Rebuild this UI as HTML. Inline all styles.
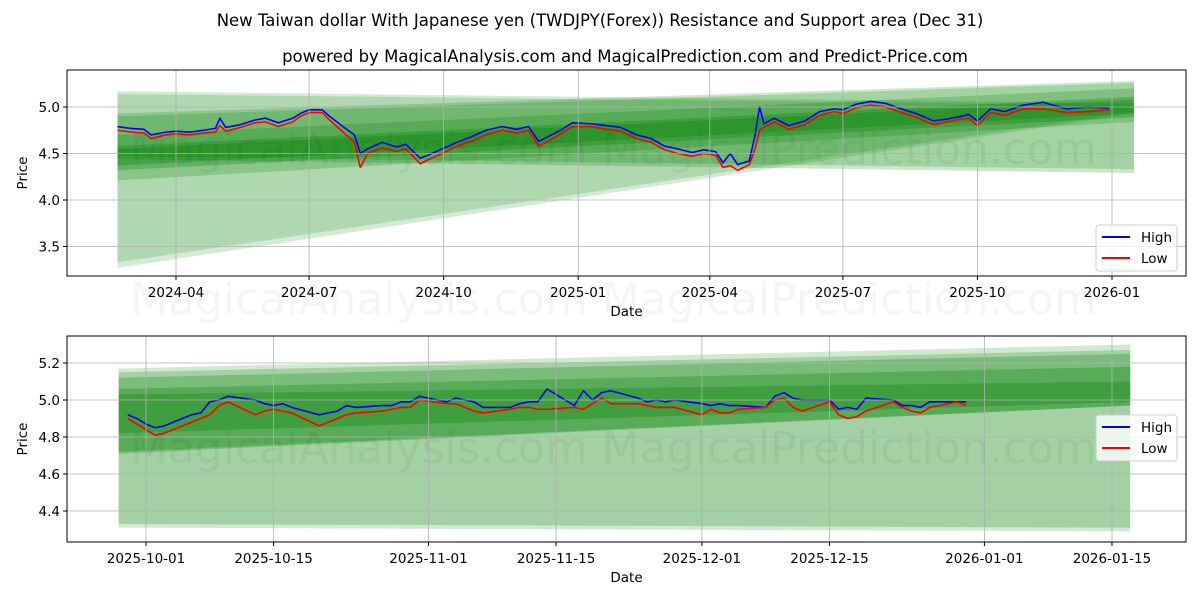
<!DOCTYPE html>
<html><head><meta charset="utf-8"><style>
body{margin:0;background:#fff;}
svg text{font-family:"DejaVu Sans","Liberation Sans",sans-serif;}
</style></head><body>
<svg id="c" width="1200" height="600" xmlns="http://www.w3.org/2000/svg">
<rect width="1200" height="600" fill="#fff"/>
<text x="600" y="26" text-anchor="middle" font-size="16.5">New Taiwan dollar With Japanese yen (TWDJPY(Forex)) Resistance and Support area (Dec 31)</text>
<text x="625" y="62" text-anchor="middle" font-size="16.5">powered by MagicalAnalysis.com and MagicalPrediction.com and Predict-Price.com</text>
<g id="top"></g>
<g id="bot"></g>
</svg>
<script>
// ---- top chart data ----
const topDates=["2024-02-21","2024-03-01","2024-03-10","2024-03-15","2024-03-25","2024-04-01","2024-04-10","2024-04-20","2024-04-28","2024-05-01","2024-05-05","2024-05-15","2024-05-25","2024-06-01","2024-06-10","2024-06-20","2024-06-25","2024-07-01","2024-07-10","2024-07-15","2024-07-25","2024-08-01","2024-08-05","2024-08-10","2024-08-20","2024-08-30","2024-09-05","2024-09-15","2024-09-20","2024-09-30","2024-10-10","2024-10-20","2024-10-30","2024-11-10","2024-11-20","2024-11-28","2024-12-05","2024-12-10","2024-12-20","2024-12-28","2025-01-10","2025-01-20","2025-01-30","2025-02-10","2025-02-20","2025-03-01","2025-03-10","2025-03-20","2025-03-28","2025-04-05","2025-04-10","2025-04-15","2025-04-20","2025-04-28","2025-05-02","2025-05-05","2025-05-08","2025-05-15","2025-05-25","2025-06-05","2025-06-15","2025-06-25","2025-07-01","2025-07-10","2025-07-20","2025-07-30","2025-08-10","2025-08-20","2025-09-01","2025-09-10","2025-09-20","2025-09-25","2025-10-01","2025-10-10","2025-10-20","2025-11-01","2025-11-15","2025-12-01","2025-12-15","2025-12-30"];
const topHigh=[4.79,4.77,4.76,4.70,4.73,4.74,4.73,4.75,4.77,4.88,4.78,4.81,4.86,4.88,4.83,4.88,4.93,4.97,4.97,4.90,4.78,4.70,4.50,4.55,4.62,4.57,4.60,4.45,4.48,4.55,4.62,4.68,4.75,4.79,4.76,4.79,4.63,4.67,4.75,4.83,4.82,4.80,4.78,4.70,4.66,4.58,4.55,4.51,4.54,4.52,4.40,4.50,4.38,4.42,4.70,5.00,4.82,4.88,4.80,4.85,4.95,4.98,4.97,5.03,5.06,5.04,4.98,4.93,4.85,4.87,4.90,4.92,4.85,4.98,4.95,5.02,5.05,4.98,5.00,4.99];
const topLow=[4.75,4.73,4.72,4.66,4.70,4.71,4.70,4.72,4.73,4.80,4.74,4.78,4.83,4.84,4.79,4.84,4.90,4.94,4.94,4.86,4.72,4.62,4.35,4.50,4.56,4.52,4.55,4.39,4.43,4.50,4.58,4.63,4.70,4.75,4.72,4.75,4.58,4.62,4.71,4.79,4.79,4.76,4.74,4.66,4.62,4.54,4.50,4.47,4.50,4.48,4.35,4.37,4.32,4.38,4.55,4.75,4.78,4.84,4.76,4.81,4.91,4.95,4.93,4.99,5.02,5.00,4.94,4.89,4.81,4.84,4.87,4.88,4.80,4.94,4.91,4.98,4.98,4.94,4.95,4.97];
const topBandStart="2024-02-21", topBandEnd="2026-01-16";
// bands: [leftTop,leftBottom,rightTop,rightBottom]
const topBandTop=[[5.17,3.27,5.04,4.93],[5.14,3.33,5.02,4.95],[4.93,4.44,5.28,4.29],[4.90,4.47,5.26,4.33],[4.70,4.21,5.20,4.84],[4.58,4.32,5.11,4.89],[4.55,4.37,5.08,4.93]];
const topBandAlpha=[0.17,0.17,0.2,0.2,0.22,0.28,0.28];
const topYTicks=[3.5,4.0,4.5,5.0];
const topXTicks=["2024-04","2024-07","2024-10","2025-01","2025-04","2025-07","2025-10","2026-01"];
// ---- bottom chart data ----
const botDates=["09-29","09-30","10-01","10-02","10-03","10-06","10-07","10-08","10-09","10-10","10-13","10-14","10-15","10-16","10-17","10-20","10-21","10-22","10-23","10-24","10-27","10-28","10-29","10-30","10-31","11-03","11-04","11-05","11-06","11-07","11-10","11-11","11-12","11-13","11-14","11-17","11-18","11-19","11-20","11-21","11-24","11-25","11-26","11-27","11-28","12-01","12-02","12-03","12-04","12-05","12-08","12-09","12-10","12-11","12-12","12-15","12-16","12-17","12-18","12-19","12-22","12-23","12-24","12-25","12-26","12-29","12-30"];
const botHigh=[4.92,4.90,4.87,4.85,4.86,4.92,4.93,4.99,5.00,5.02,5.00,4.98,4.97,4.98,4.96,4.92,4.93,4.94,4.97,4.96,4.97,4.97,4.99,4.99,5.02,4.99,5.01,5.00,4.99,4.96,4.96,4.98,4.99,4.99,5.06,4.97,5.05,5.00,5.04,5.05,5.01,4.99,5.00,4.99,5.00,4.98,4.97,4.98,4.97,4.97,4.96,5.02,5.04,5.01,5.00,5.00,4.95,4.96,4.95,5.01,5.00,4.97,4.97,4.96,4.99,4.99,4.99];
const botLow=[4.90,4.87,4.84,4.81,4.82,4.88,4.90,4.92,4.97,4.99,4.92,4.94,4.95,4.94,4.93,4.86,4.88,4.90,4.92,4.93,4.94,4.95,4.96,4.96,5.00,4.98,4.98,4.96,4.94,4.93,4.95,4.96,4.96,4.95,4.95,4.96,4.95,4.98,5.01,4.98,4.98,4.97,4.96,4.96,4.96,4.92,4.95,4.93,4.93,4.95,4.96,5.00,5.01,4.96,4.94,4.99,4.92,4.90,4.91,4.94,4.99,4.96,4.94,4.93,4.96,4.99,4.97];
const botBandStart="2025-09-28", botBandEnd="2026-01-17";
const botBands=[[5.17,4.31,5.30,4.29],[5.15,4.33,5.27,4.31],[5.12,4.71,5.25,4.97],[5.06,4.72,5.18,4.97],[5.03,4.82,5.10,4.99]];
const botBandAlpha=[0.18,0.22,0.25,0.28,0.28];
const botYTicks=[4.4,4.6,4.8,5.0,5.2];
const botXTicks=["2025-10-01","2025-10-15","2025-11-01","2025-11-15","2025-12-01","2025-12-15","2026-01-01","2026-01-15"];

const NS="http://www.w3.org/2000/svg";
function day(s){if(s.length===7)s+="-01";return Date.UTC(+s.slice(0,4),+s.slice(5,7)-1,+s.slice(8,10))/864e5;}
function mk(p,tag,at){const e=document.createElementNS(NS,tag);for(const k in at)e.setAttribute(k,at[k]);p.appendChild(e);return e;}

function panel(g,cfg){
  const {L,R,T,B,x,y}=cfg;
  const clipId=cfg.id+"clip";
  const cp=mk(g,"clipPath",{id:clipId});mk(cp,"rect",{x:L,y:T,width:R-L,height:B-T});
  const cg=mk(g,"g",{"clip-path":"url(#"+clipId+")"});
  cfg.bands.forEach((b,i)=>{
    const x0=x(cfg.bs),x1=x(cfg.be);
    const p=mk(cg,"polygon",{points:`${x0},${y(b[0])} ${x1},${y(b[2])} ${x1},${y(b[3])} ${x0},${y(b[1])}`,fill:"#008000","fill-opacity":cfg.alpha[i]});
    
    
  });
  cfg.yt.forEach(v=>{
    const l=mk(g,"line",{x1:L,x2:R,y1:y(v),y2:y(v),stroke:"#b0b0b0","stroke-width":0.8});
    
    mk(g,"line",{x1:L-4,x2:L,y1:y(v),y2:y(v),stroke:"#000"});
    const t=mk(g,"text",{x:L-7,y:y(v)+5,"text-anchor":"end","font-size":13.5});t.textContent=v.toFixed(1);
    
  });
  cfg.xt.forEach(d=>{
    const xv=x(d);
    const l=mk(g,"line",{x1:xv,x2:xv,y1:T,y2:B,stroke:"#b0b0b0","stroke-width":0.8});
    
    mk(g,"line",{x1:xv,x2:xv,y1:B,y2:B+4,stroke:"#000"});
    const t=mk(g,"text",{x:xv,y:B+21,"text-anchor":"middle","font-size":13.5});t.textContent=d;
    
  });
  const w=mk(g,"text",{x:cfg.wmX,y:cfg.wmY,"font-size":44,fill:"#000","fill-opacity":0.045});
  w.textContent="MagicalAnalysis.com    MagicalPrediction.com";
  
  [[cfg.hi,"#0000ff","high-line"],[cfg.lo,"#ff0000","low-line"]].forEach(([arr,col,nm])=>{
    const pts=arr.map((v,i)=>x(cfg.dates[i])+","+y(v)).join(" ");
    const pl=mk(cg,"polyline",{points:pts,fill:"none",stroke:col,"stroke-width":1.6,"stroke-linejoin":"round"});
    
  });
  mk(g,"rect",{x:L,y:T,width:R-L,height:B-T,fill:"none",stroke:"#000","stroke-width":1});
  const xl=mk(g,"text",{x:(L+R)/2,y:B+40,"text-anchor":"middle","font-size":13.5});xl.textContent="Date";
  
  const yl=mk(g,"text",{x:0,y:0,"text-anchor":"middle","font-size":13.5,transform:`translate(27,${(T+B)/2}) rotate(-90)`});yl.textContent="Price";
  
  const lg=mk(g,"g",{});
  
  const ly=cfg.legY;
  mk(lg,"rect",{x:1096,y:ly,width:81,height:46,rx:3,fill:"#fff","fill-opacity":0.8,stroke:"#ccc"});
  mk(lg,"line",{x1:1102,x2:1130,y1:ly+12,y2:ly+12,stroke:"#0000ff","stroke-width":2});
  const t1=mk(lg,"text",{x:1141,y:ly+17,"font-size":13.5});t1.textContent="High";
  
  mk(lg,"line",{x1:1102,x2:1130,y1:ly+33,y2:ly+33,stroke:"#ff0000","stroke-width":2});
  const t2=mk(lg,"text",{x:1141,y:ly+38,"font-size":13.5});t2.textContent="Low";
  
}

const d0=day("2024-04-01");
panel(document.getElementById("top"),{id:"t",L:67,R:1186,T:70,B:276,
  x:s=>176+(day(s)-d0)*1.4625, y:v=>107+(5-v)*93,
  bands:topBandTop,alpha:topBandAlpha,bs:topBandStart,be:topBandEnd,
  yt:topYTicks,xt:topXTicks,dates:topDates,hi:topHigh,lo:topLow,legY:225,wmX:130,wmY:164});
const b0=day("2025-10-01");
const bd=s=>s.length===5?(s<"09"?"2026-":"2025-")+s:s;
panel(document.getElementById("bot"),{id:"b",L:67,R:1186,T:336,B:542,
  x:s=>146+(day(bd(s))-b0)*9.113, y:v=>400+(5-v)*185,
  bands:botBands,alpha:botBandAlpha,bs:botBandStart,be:botBandEnd,
  yt:botYTicks,xt:botXTicks,dates:botDates,hi:botHigh,lo:botLow,legY:415,wmX:130,wmY:463});
const svg=document.getElementById("c");
const wm=mk(svg,"text",{x:130,y:314,"font-size":44,fill:"#000","fill-opacity":0.04});
wm.textContent="MagicalAnalysis.com    MagicalPrediction.com";


</script>
</body></html>
